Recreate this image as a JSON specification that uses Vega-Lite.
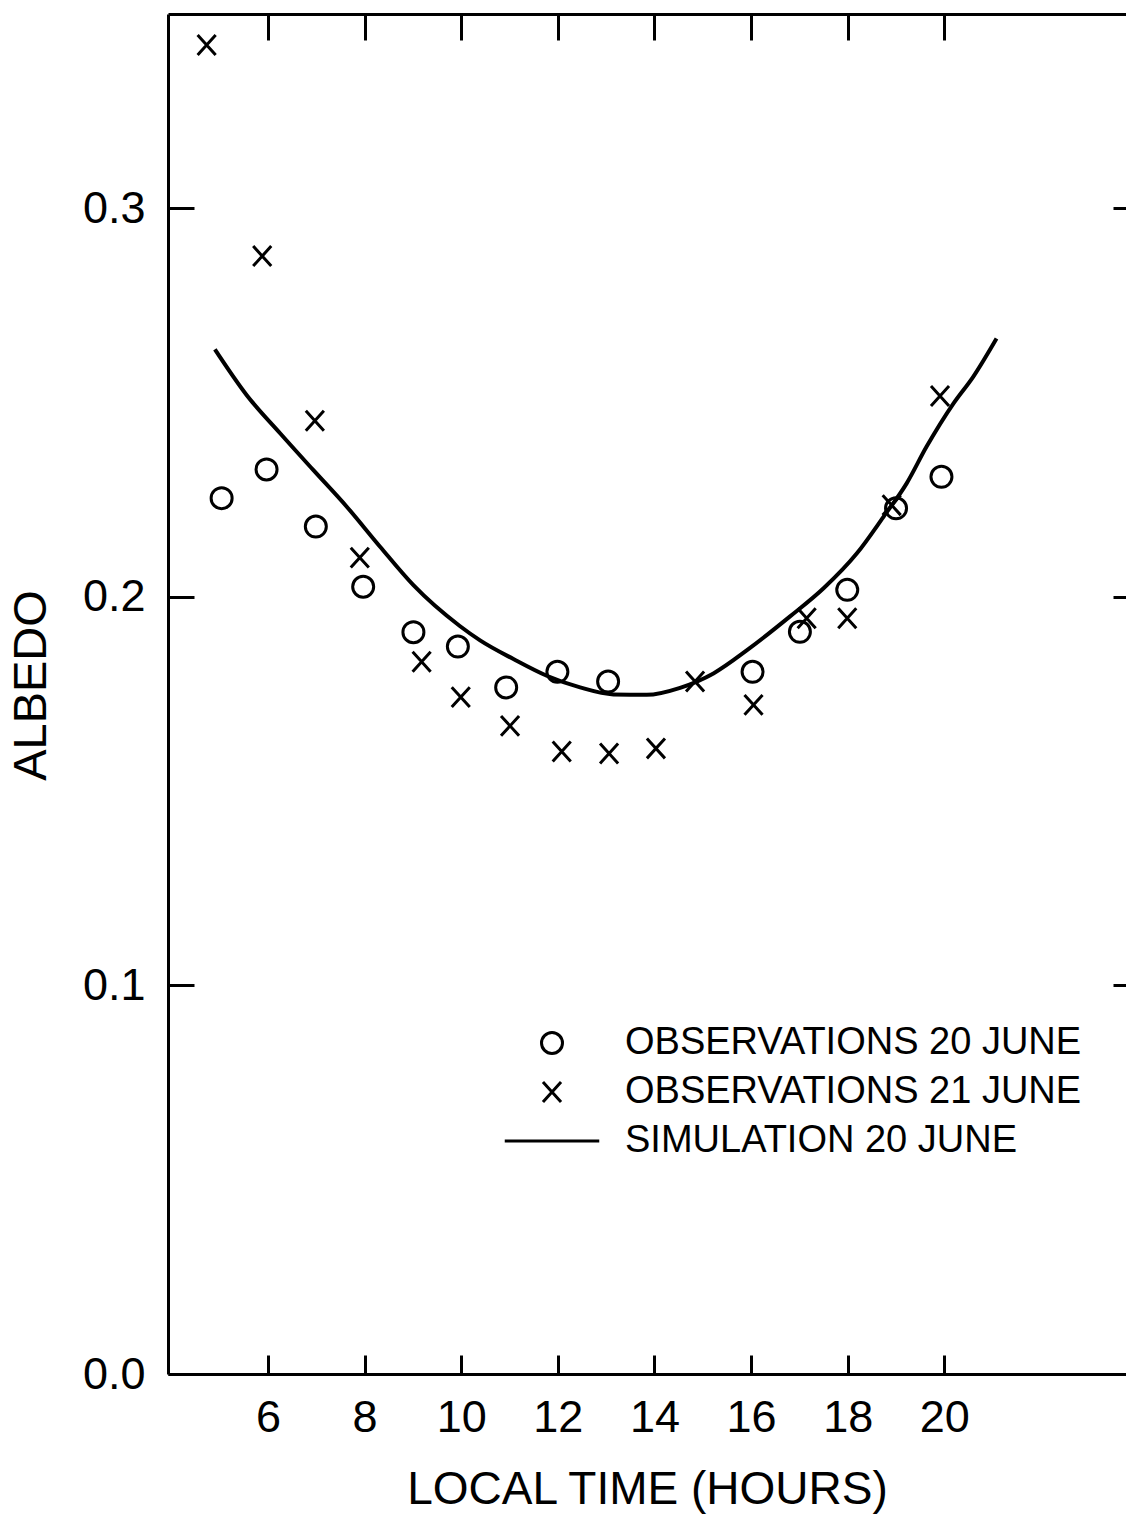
{
  "$schema": "https://vega.github.io/schema/vega-lite/v6.json",
  "autosize": {"type": "none"},
  "padding": {"left": 168, "top": 14, "right": 0, "bottom": 140},
  "width": 958,
  "height": 1360,
  "background": "white",
  "config": {
    "view": {"stroke": null},
    "font": "Liberation Sans",
    "axis": {
      "grid": false,
      "domainColor": "black",
      "domainWidth": 3,
      "tickColor": "black",
      "tickWidth": 3,
      "labelColor": "black",
      "titleColor": "black",
      "labelFont": "Liberation Sans",
      "titleFont": "Liberation Sans",
      "titleFontWeight": "normal"
    }
  },
  "resolve": {"axis": {"x": "independent", "y": "independent"}},
  "layer": [
    {
      "data": {
        "values": [
          {"hour": 4.90, "albedo": 0.2637},
          {"hour": 5.56, "albedo": 0.2519},
          {"hour": 6.25, "albedo": 0.2421},
          {"hour": 6.94, "albedo": 0.2326},
          {"hour": 7.63, "albedo": 0.2232},
          {"hour": 8.32, "albedo": 0.2129},
          {"hour": 9.01, "albedo": 0.2030},
          {"hour": 9.97, "albedo": 0.1925},
          {"hour": 10.39, "albedo": 0.1888},
          {"hour": 11.08, "albedo": 0.1840},
          {"hour": 11.77, "albedo": 0.1797},
          {"hour": 12.46, "albedo": 0.1767},
          {"hour": 13.15, "albedo": 0.1749},
          {"hour": 13.84, "albedo": 0.1748},
          {"hour": 14.53, "albedo": 0.1766},
          {"hour": 15.22, "albedo": 0.1803},
          {"hour": 15.95, "albedo": 0.1866},
          {"hour": 16.8, "albedo": 0.1949},
          {"hour": 17.5, "albedo": 0.2022},
          {"hour": 18.19, "albedo": 0.2112},
          {"hour": 18.74, "albedo": 0.2206},
          {"hour": 19.22, "albedo": 0.2292},
          {"hour": 19.63, "albedo": 0.2386},
          {"hour": 20.19, "albedo": 0.2498},
          {"hour": 20.6, "albedo": 0.2567},
          {"hour": 21.08, "albedo": 0.2665}
        ]
      },
      "mark": {"type": "line", "color": "black", "strokeWidth": 4, "interpolate": "monotone"},
      "encoding": {
        "x": {
          "field": "hour",
          "type": "quantitative",
          "scale": {"domain": [3.93, 23.76], "nice": false, "zero": false},
          "axis": {
            "orient": "bottom",
            "values": [6, 8, 10, 12, 14, 16, 18, 20],
            "tickSize": -19,
            "labelPadding": 40,
            "labelFontSize": 45,
            "labelFlush": false,
            "title": "LOCAL TIME (HOURS)",
            "titleFontSize": 46,
            "titleY": 129,
            "titleBaseline": "alphabetic"
          }
        },
        "y": {
          "field": "albedo",
          "type": "quantitative",
          "scale": {"domain": [0, 0.35], "nice": false, "zero": true},
          "axis": {
            "orient": "left",
            "values": [0, 0.1, 0.2, 0.3],
            "format": ".1f",
            "tickSize": -26,
            "labelPadding": 49,
            "labelFontSize": 45,
            "labelFlush": false,
            "title": "ALBEDO",
            "titleFontSize": 47,
            "titleAngle": -90,
            "titleX": -123,
            "titleY": 671,
            "titleAlign": "center",
            "titleBaseline": "alphabetic"
          }
        }
      }
    },
    {
      "data": {
        "values": [
          {"hour": 5.04, "albedo": 0.2254, "series": "OBSERVATIONS 20 JUNE"},
          {"hour": 5.97, "albedo": 0.2328, "series": "OBSERVATIONS 20 JUNE"},
          {"hour": 6.99, "albedo": 0.2181, "series": "OBSERVATIONS 20 JUNE"},
          {"hour": 7.97, "albedo": 0.2026, "series": "OBSERVATIONS 20 JUNE"},
          {"hour": 9.01, "albedo": 0.1909, "series": "OBSERVATIONS 20 JUNE"},
          {"hour": 9.93, "albedo": 0.1872, "series": "OBSERVATIONS 20 JUNE"},
          {"hour": 10.93, "albedo": 0.1767, "series": "OBSERVATIONS 20 JUNE"},
          {"hour": 11.99, "albedo": 0.1807, "series": "OBSERVATIONS 20 JUNE"},
          {"hour": 13.04, "albedo": 0.1782, "series": "OBSERVATIONS 20 JUNE"},
          {"hour": 16.03, "albedo": 0.1807, "series": "OBSERVATIONS 20 JUNE"},
          {"hour": 17.01, "albedo": 0.191, "series": "OBSERVATIONS 20 JUNE"},
          {"hour": 17.99, "albedo": 0.2018, "series": "OBSERVATIONS 20 JUNE"},
          {"hour": 19.0, "albedo": 0.2228, "series": "OBSERVATIONS 20 JUNE"},
          {"hour": 19.94, "albedo": 0.2309, "series": "OBSERVATIONS 20 JUNE"},
          {"hour": 4.73, "albedo": 0.342, "series": "OBSERVATIONS 21 JUNE"},
          {"hour": 5.88, "albedo": 0.2877, "series": "OBSERVATIONS 21 JUNE"},
          {"hour": 6.97, "albedo": 0.2453, "series": "OBSERVATIONS 21 JUNE"},
          {"hour": 7.9, "albedo": 0.2101, "series": "OBSERVATIONS 21 JUNE"},
          {"hour": 9.18, "albedo": 0.1833, "series": "OBSERVATIONS 21 JUNE"},
          {"hour": 9.99, "albedo": 0.1742, "series": "OBSERVATIONS 21 JUNE"},
          {"hour": 11.01, "albedo": 0.1668, "series": "OBSERVATIONS 21 JUNE"},
          {"hour": 12.08, "albedo": 0.1602, "series": "OBSERVATIONS 21 JUNE"},
          {"hour": 13.06, "albedo": 0.1597, "series": "OBSERVATIONS 21 JUNE"},
          {"hour": 14.03, "albedo": 0.161, "series": "OBSERVATIONS 21 JUNE"},
          {"hour": 14.84, "albedo": 0.1782, "series": "OBSERVATIONS 21 JUNE"},
          {"hour": 16.05, "albedo": 0.1722, "series": "OBSERVATIONS 21 JUNE"},
          {"hour": 17.15, "albedo": 0.1945, "series": "OBSERVATIONS 21 JUNE"},
          {"hour": 17.99, "albedo": 0.1945, "series": "OBSERVATIONS 21 JUNE"},
          {"hour": 18.91, "albedo": 0.2236, "series": "OBSERVATIONS 21 JUNE"},
          {"hour": 19.91, "albedo": 0.2517, "series": "OBSERVATIONS 21 JUNE"}
        ]
      },
      "mark": {"type": "point", "filled": false, "color": "black", "strokeWidth": 3, "size": 441, "opacity": 1},
      "encoding": {
        "x": {
          "field": "hour",
          "type": "quantitative",
          "scale": {"domain": [3.93, 23.76], "nice": false, "zero": false},
          "axis": {
            "orient": "top",
            "values": [6, 8, 10, 12, 14, 16, 18, 20],
            "tickSize": -26,
            "labels": false,
            "title": null
          }
        },
        "y": {
          "field": "albedo",
          "type": "quantitative",
          "scale": {"domain": [0, 0.35], "nice": false, "zero": true},
          "axis": {
            "orient": "right",
            "values": [0.1, 0.2, 0.3],
            "tickSize": -13,
            "domain": false,
            "labels": false,
            "title": null
          }
        },
        "shape": {
          "field": "series",
          "type": "nominal",
          "scale": {
            "domain": ["OBSERVATIONS 20 JUNE", "OBSERVATIONS 21 JUNE", "SIMULATION 20 JUNE"],
            "range": ["circle", "M-0.86,-0.95L0.86,0.95M-0.86,0.95L0.86,-0.95", "M-4.5,0L4.5,0"]
          },
          "legend": {
            "orient": "none",
            "legendX": 365,
            "legendY": 1010,
            "title": null,
            "padding": 0,
            "labelFontSize": 38,
            "labelFont": "Liberation Sans",
            "labelColor": "black",
            "labelLimit": 0,
            "labelOffset": 54,
            "symbolSize": 441,
            "symbolStrokeWidth": 3,
            "symbolStrokeColor": "black",
            "symbolFillColor": "transparent",
            "symbolOpacity": 1,
            "rowPadding": 11
          }
        }
      }
    }
  ]
}
